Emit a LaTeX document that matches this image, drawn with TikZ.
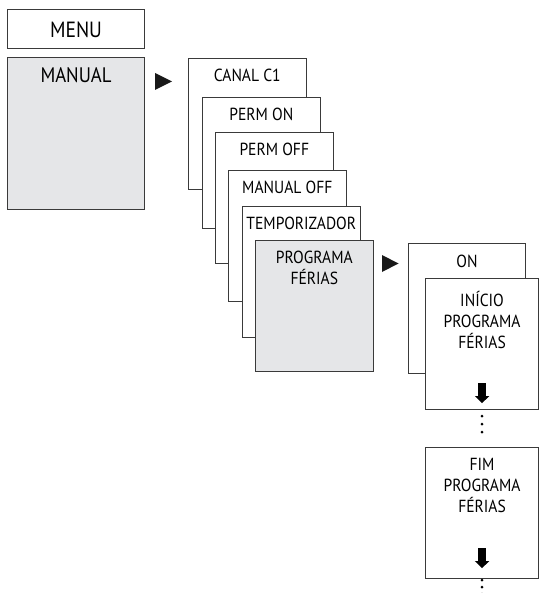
\documentclass[tikz,border=0pt]{standalone}
\usepackage{fontspec}
\setmainfont{PT Sans}[FakeStretch=0.89]
\usetikzlibrary{arrows.meta}
\definecolor{panelgray}{RGB}{229,230,232}
\definecolor{edgegray}{RGB}{58,58,58}
\newcommand{\stacklines}[1]{\begin{tabular}[t]{@{}c@{}}#1\end{tabular}}
\tikzset{
    screen/.style={draw=edgegray, line width=1.1pt, fill=white, anchor=north west,
        inner sep=0pt, font=\fontsize{17.5}{20.5}\selectfont,
        minimum width=117.5pt, minimum height=131pt, text height=23pt, text depth=108pt},
    chosen/.style={fill=panelgray},
    downarrow/.style={line width=7.5pt, -{Triangle[width=14pt,length=7pt]}},
    pointer/.style={fill=black!90},
}
\begin{document}
\begin{tikzpicture}[x=1pt,y=-1pt]
        \useasboundingbox (0,0) rectangle (540,593);
        % left column
        \node[screen, minimum width=137pt, minimum height=39pt, text height=28pt, text depth=11pt,
            font=\fontsize{22}{24}\selectfont] (menu) at (7,9) {MENU};
        \node[screen, chosen, minimum width=137pt, minimum height=152pt, text height=25pt, text depth=127pt,
            font=\fontsize{21}{24}\selectfont] (manual) at (7,57) {MANUAL};
        \fill[pointer] (155,73) -- (172,81.5) -- (155,90) -- cycle;
        % stacked screens
        \node[screen] (canal) at (188,58) {CANAL C1};
        \node[screen] (permon) at (202,97) {PERM ON};
        \node[screen] (permoff) at (215,132) {PERM OFF};
        \node[screen] (manoff) at (228,170) {MANUAL OFF};
        \node[screen] (temp) at (242,206) {TEMPORIZADOR};
        \node[screen, chosen] (prog) at (255,240) {\stacklines{PROGRAMA\\FÉRIAS}};
        \fill[pointer] (382,255) -- (398.5,263.5) -- (382,272) -- cycle;
        % right column
        \node[screen, minimum width=117pt, minimum height=130pt, text height=24pt, text depth=106pt] (on) at (408,243) {ON};
        \node[screen, minimum width=113pt, text height=28pt, text depth=103pt] (inicio) at (425,278) {\stacklines{INÍCIO\\PROGRAMA\\FÉRIAS}};
        \draw[downarrow] ([yshift=27pt]inicio.south) -- ([yshift=7pt]inicio.south);
        \foreach \d in {6,14,22}
            \fill ([yshift=-\d pt]inicio.south) circle (1.5pt);
        \node[screen, minimum width=113pt, text height=23pt, text depth=108pt] (fim) at (425,447) {\stacklines{FIM\\PROGRAMA\\FÉRIAS}};
        \draw[downarrow] ([yshift=31pt]fim.south) -- ([yshift=11pt]fim.south);
        \foreach \d in {1,8,15}
            \fill ([yshift=-\d pt]fim.south) circle (1.5pt);
    \end{tikzpicture}
\end{document}
